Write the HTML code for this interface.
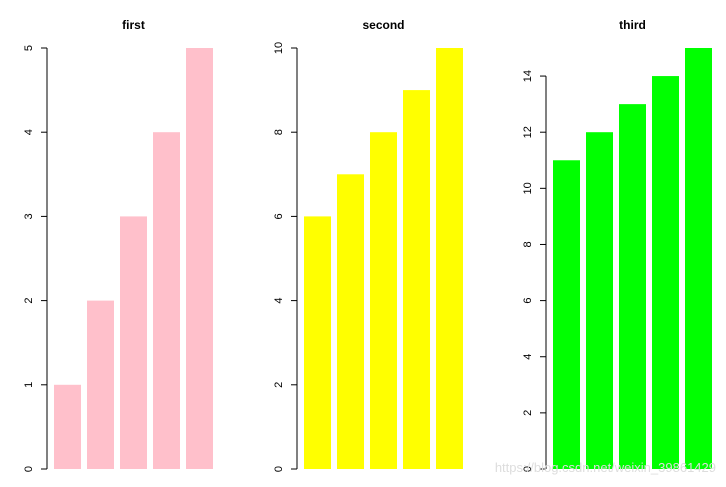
<!DOCTYPE html>
<html><head><meta charset="utf-8"><style>body{margin:0;background:#fff}svg{display:block;font-family:"Liberation Sans",sans-serif}</style></head>
<body>
<svg id="c" width="726" height="487"></svg>
<script>
const titles = ["first","second","third"];
const seriesFirst = [1,2,3,4,5];
const seriesSecond = [6,7,8,9,10];
const seriesThird = [11,12,13,14,15];
const yMaxes = [5,10,15];
const tickSteps = [1,2,2];
const colors = ["#FFC0CB","#FFFF00","#00FF00"];
const series = [seriesFirst, seriesSecond, seriesThird];
const svg = document.getElementById('c');
const NS = "http://www.w3.org/2000/svg";
function mk(t, a, p){const e=document.createElementNS(NS,t);for(const k in a)e.setAttribute(k,a[k]);(p||svg).appendChild(e);return e;}
const axisX = [47,297,546];
const y0 = 469, yTop = 48;
series.forEach((vals, pi) => {
  const g = mk('g', {});
  
  
  const ax = axisX[pi];
  const ys = v => y0 - v / yMaxes[pi] * (y0 - yTop);
  const xs = i => ax + 7 + i * 33;
  vals.forEach((v, i) => {
    const r = mk('rect', {x: xs(i), y: ys(v), width: 27, height: y0 - ys(v), fill: colors[pi]}, g);
    
    
  });
  const topTick = Math.floor(yMaxes[pi] / tickSteps[pi]) * tickSteps[pi];
  const al = mk('line', {x1: ax, x2: ax, y1: ys(0), y2: ys(topTick), stroke: '#000', 'stroke-width': 1}, g);
  
  
  for (let t = 0; t <= yMaxes[pi] + 1e-9; t += tickSteps[pi]) {
    const y = ys(t);
    mk('line', {x1: ax - 6, x2: ax, y1: y, y2: y, stroke: '#000'}, g);
    const tx = mk('text', {x: ax - 15, y: y, 'font-size': 11, 'text-anchor': 'middle', transform: 'rotate(-90 ' + (ax - 15) + ' ' + y + ')'}, g);
    
    
    tx.textContent = t;
  }
  const tt = mk('text', {x: xs(2) + 13.5, y: 29, 'font-size': 12, 'font-weight': 'bold', 'text-anchor': 'middle'}, g);
  
  
  tt.textContent = titles[pi];
});
const wm = mk('text', {x: 716, y: 472, 'font-size': 13, 'text-anchor': 'end', fill: '#dddddd'});


wm.textContent = 'https://blog.csdn.net/weixin_39861429';
</script>
</body></html>
